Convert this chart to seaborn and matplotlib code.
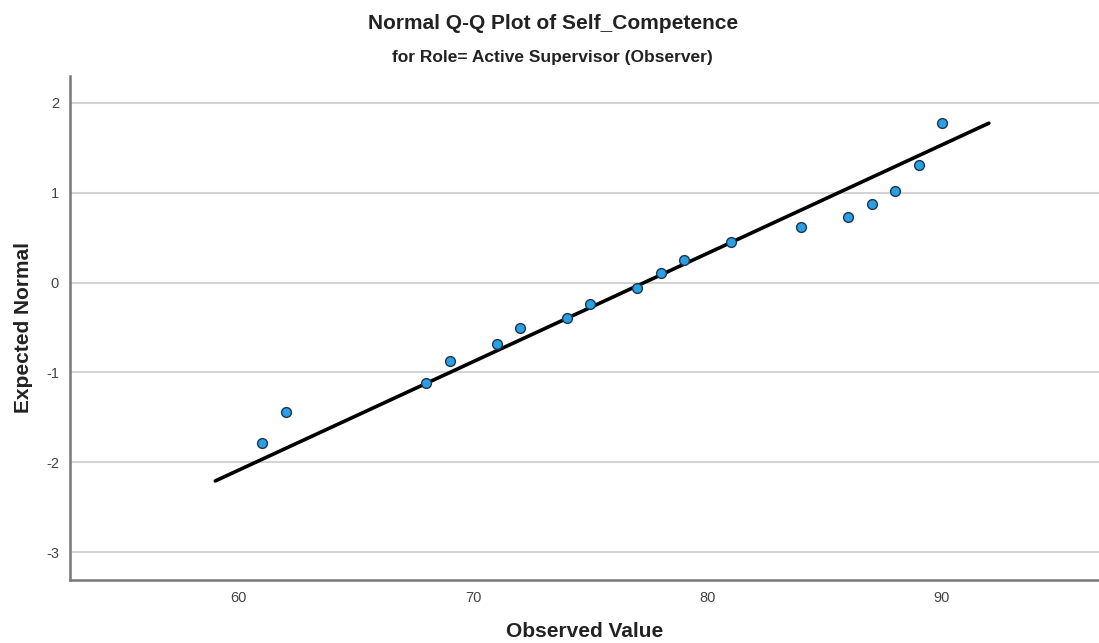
import numpy as np
import pandas as pd
import matplotlib
matplotlib.use("Agg")
import matplotlib.pyplot as plt
import seaborn as sns

# Data
observed = [61, 62, 68, 69, 71, 72, 74, 75, 77, 78, 79, 81, 84, 86, 87, 88, 89, 90]
expected = [-1.785, -1.44, -1.118, -0.878, -0.681, -0.506, -0.40, -0.239, -0.061,
            0.106, 0.246, 0.446, 0.613, 0.735, 0.869, 1.024, 1.31, 1.778]
line_x = [59, 92]
mean_val = 77.3
sd_val = 8.29
x_ticks = [60, 70, 80, 90]
y_ticks = [-3, -2, -1, 0, 1, 2]

sns.set_style("white")
plt.rcParams['font.family'] = ['Liberation Sans', 'DejaVu Sans']
plt.rcParams['axes.unicode_minus'] = False

df = pd.DataFrame({"Observed Value": observed, "Expected Normal": expected})
line_df = pd.DataFrame({"x": line_x})
line_df["y"] = (line_df["x"] - mean_val) / sd_val

fig = plt.figure(figsize=(10.99, 6.43), dpi=100)
ax = fig.add_axes([0.0637, 0.098, 0.9363, 0.784])

for yt in y_ticks:
    ax.axhline(yt, color="#d4d4d4", lw=1.5, zorder=0)

sns.lineplot(data=line_df, x="x", y="y", color="black", lw=2.6, ax=ax, zorder=2)
sns.scatterplot(data=df, x="Observed Value", y="Expected Normal", s=50,
                color="#2a9fe2", edgecolor="#1c3550", linewidth=1.0, ax=ax, zorder=3)

ax.set_xlim(52.8, 96.7)
ax.set_ylim(-3.31, 2.30)
ax.set_xticks(x_ticks)
ax.set_yticks(y_ticks)
ax.tick_params(axis="both", length=0, labelsize=10.5, colors="#444444", pad=8)
for s in ["top", "right"]:
    ax.spines[s].set_visible(False)
for s in ["left", "bottom"]:
    ax.spines[s].set_color("#777777")
    ax.spines[s].set_linewidth(1.8)

ax.set_xlabel("Observed Value", fontsize=15, fontweight="bold", labelpad=12,
              color="#222222")
ax.set_ylabel("Expected Normal", fontsize=15, fontweight="bold", labelpad=9,
              color="#222222")

fig.text(0.503, 0.963, "Normal Q-Q Plot of Self_Competence", ha="center", va="center",
         fontsize=15, fontweight="bold", color="#222222")
fig.text(0.503, 0.91, "for Role= Active Supervisor (Observer)", ha="center", va="center",
         fontsize=12.5, fontweight="bold", color="#222222")

fig.savefig("out.png", dpi=100)
